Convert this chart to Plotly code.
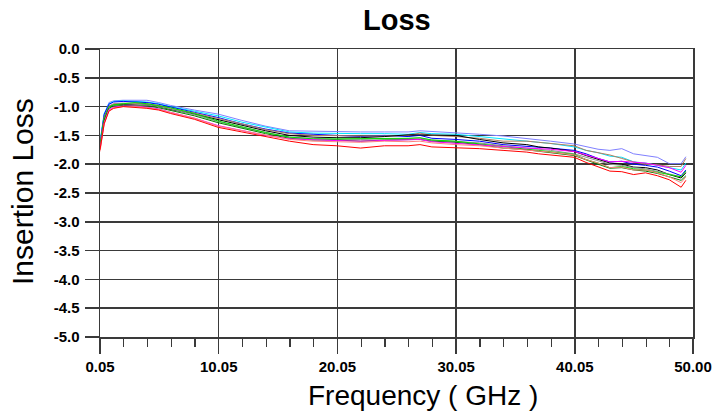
import plotly.graph_objects as go

freq = [0.05, 0.4, 0.8, 1.2, 2, 3, 4, 5, 6, 8, 10, 12, 14, 16, 18, 20, 22, 24, 26, 27, 28,
        30, 32, 34, 36, 37, 38, 40, 41, 42, 43, 44, 45, 46, 47, 48, 49, 49.4]

periwinkle = [-1.62, -1.15, -0.93, -0.90, -0.89, -0.89, -0.89, -0.93, -0.98, -1.06, -1.13, -1.24, -1.34, -1.42, -1.43, -1.44, -1.44, -1.44, -1.44, -1.42, -1.43,
              -1.45, -1.48, -1.51, -1.55, -1.58, -1.60, -1.65, -1.70, -1.74, -1.76, -1.73, -1.82, -1.85, -1.88, -1.99, -1.99, -1.87]
cyan = [-1.60, -1.12, -0.95, -0.91, -0.90, -0.91, -0.92, -0.95, -1.00, -1.08, -1.16, -1.27, -1.36, -1.44, -1.46, -1.47, -1.47, -1.47, -1.48, -1.45, -1.47,
        -1.48, -1.52, -1.55, -1.60, -1.62, -1.64, -1.70, -1.76, -1.80, -1.86, -1.88, -1.96, -1.98, -2.02, -2.06, -2.10, -1.98]
blue = [-1.65, -1.14, -0.96, -0.92, -0.91, -0.92, -0.93, -0.96, -1.01, -1.10, -1.19, -1.30, -1.39, -1.46, -1.48, -1.50, -1.52, -1.50, -1.52, -1.50, -1.55,
        -1.57, -1.60, -1.66, -1.69, -1.70, -1.72, -1.76, -1.82, -1.90, -1.96, -1.95, -2.00, -2.02, -2.05, -2.12, -2.20, -2.10]
brown = [-1.68, -1.18, -0.99, -0.95, -0.94, -0.94, -0.95, -0.98, -1.03, -1.11, -1.20, -1.30, -1.40, -1.47, -1.50, -1.51, -1.51, -1.51, -1.50, -1.46, -1.50,
         -1.52, -1.55, -1.60, -1.60, -1.62, -1.64, -1.68, -1.76, -1.80, -1.84, -1.90, -1.96, -2.00, -2.01, -2.04, -2.04, -1.90]
black = [-1.70, -1.20, -1.00, -0.97, -0.96, -0.96, -0.97, -1.00, -1.05, -1.13, -1.23, -1.33, -1.42, -1.50, -1.53, -1.54, -1.54, -1.52, -1.49, -1.49, -1.49,
         -1.50, -1.57, -1.63, -1.66, -1.70, -1.72, -1.78, -1.85, -1.92, -1.98, -2.00, -2.05, -2.06, -2.10, -2.18, -2.24, -2.15]
green = [-1.68, -1.22, -1.01, -0.97, -0.95, -0.93, -0.95, -0.98, -1.02, -1.12, -1.25, -1.35, -1.45, -1.53, -1.56, -1.56, -1.56, -1.56, -1.55, -1.54, -1.58,
         -1.60, -1.65, -1.70, -1.74, -1.76, -1.78, -1.83, -1.92, -1.98, -2.06, -2.04, -2.08, -2.10, -2.14, -2.18, -2.22, -2.12]
dark_green = [-1.72, -1.24, -1.03, -0.99, -0.98, -0.98, -0.99, -1.02, -1.07, -1.16, -1.28, -1.38, -1.47, -1.55, -1.58, -1.58, -1.60, -1.58, -1.58, -1.57, -1.60,
              -1.62, -1.66, -1.72, -1.75, -1.77, -1.80, -1.85, -1.93, -2.00, -2.07, -2.06, -2.10, -2.12, -2.16, -2.22, -2.28, -2.20]
gray = [-1.66, -1.20, -1.00, -0.96, -0.95, -0.96, -0.97, -1.00, -1.04, -1.14, -1.26, -1.36, -1.45, -1.53, -1.55, -1.57, -1.57, -1.56, -1.56, -1.55, -1.58,
        -1.60, -1.63, -1.68, -1.72, -1.74, -1.76, -1.82, -1.88, -1.95, -2.00, -2.02, -2.06, -2.08, -2.12, -2.17, -2.22, -2.14]
magenta = [-1.74, -1.28, -1.05, -1.01, -0.99, -0.99, -1.01, -1.04, -1.10, -1.20, -1.33, -1.42, -1.50, -1.56, -1.58, -1.59, -1.60, -1.59, -1.58, -1.57, -1.61,
           -1.64, -1.66, -1.70, -1.72, -1.73, -1.74, -1.78, -1.84, -1.90, -1.96, -1.95, -1.97, -1.98, -2.02, -2.06, -2.14, -2.02]
pink = [-1.78, -1.30, -1.07, -1.02, -1.00, -1.00, -1.02, -1.05, -1.10, -1.20, -1.34, -1.42, -1.50, -1.57, -1.60, -1.61, -1.62, -1.60, -1.61, -1.60, -1.63,
        -1.66, -1.68, -1.72, -1.75, -1.77, -1.79, -1.84, -1.92, -1.98, -2.06, -2.05, -2.10, -2.10, -2.15, -2.22, -2.32, -2.22]
red = [-1.75, -1.30, -1.08, -1.03, -1.00, -1.01, -1.03, -1.06, -1.12, -1.22, -1.36, -1.44, -1.52, -1.60, -1.66, -1.68, -1.72, -1.68, -1.68, -1.66, -1.70,
       -1.71, -1.73, -1.76, -1.79, -1.82, -1.84, -1.88, -1.97, -2.04, -2.12, -2.13, -2.18, -2.15, -2.20, -2.27, -2.40, -2.28]

series = [
    ("S1", periwinkle, "#8080ff"),
    ("S2", cyan, "#00e5ff"),
    ("S3", blue, "#0000ff"),
    ("S4", brown, "#b08060"),
    ("S5", black, "#000000"),
    ("S6", gray, "#909090"),
    ("S7", green, "#00e000"),
    ("S8", dark_green, "#008000"),
    ("S9", magenta, "#ff00ff"),
    ("S10", pink, "#ff8080"),
    ("S11", red, "#ff0000"),
]

x_tickvals = [0.05, 10.05, 20.05, 30.05, 40.05, 50.0]
x_ticktext = ["0.05", "10.05", "20.05", "30.05", "40.05", "50.00"]
x_minor = [2.05, 4.05, 6.05, 8.05, 12.05, 14.05, 16.05, 18.05, 22.05, 24.05, 26.05, 28.05,
           32.05, 34.05, 36.05, 38.05, 42.05, 44.05, 46.05, 48.05]
y_tickvals = [0.0, -0.5, -1.0, -1.5, -2.0, -2.5, -3.0, -3.5, -4.0, -4.5, -5.0]
y_ticktext = ["0.0", "-0.5", "-1.0", "-1.5", "-2.0", "-2.5", "-3.0", "-3.5", "-4.0", "-4.5", "-5.0"]

fig = go.Figure()
for name, vals, col in series:
    fig.add_trace(go.Scatter(x=freq, y=vals, mode="lines", name=name,
                             line=dict(color=col, width=1)))

FONT = "Arial, Liberation Sans, sans-serif"
GRID = "#3a3a3a"
L, R, T, B = 100, 22, 49, 78
W, H = 715, 415
PW, PH = W - L - R, H - T - B
fig.update_layout(
    width=W, height=H,
    margin=dict(l=L, r=R, t=T, b=B, autoexpand=False),
    paper_bgcolor="white", plot_bgcolor="white",
    showlegend=False,
    font=dict(family=FONT, color="black"),
    annotations=[
        dict(text="<b>Loss</b>", xref="paper", yref="paper",
             x=0.5, y=1 + (T - 20) / PH, xanchor="center", yanchor="middle",
             showarrow=False, font=dict(family=FONT, size=29, color="black")),
        dict(text="Frequency ( GHz )", xref="paper", yref="paper",
             x=(423 - L) / PW, y=-(395 - (H - B)) / PH,
             xanchor="center", yanchor="middle",
             showarrow=False, font=dict(family=FONT, size=28, color="black")),
        dict(text="Insertion Loss", xref="paper", yref="paper", textangle=-90,
             x=-(L - 22) / PW, y=1 - (192 - T) / PH,
             xanchor="center", yanchor="middle",
             showarrow=False, font=dict(family=FONT, size=30, color="black")),
    ],
)
fig.update_xaxes(
    range=[0.05, 50.0], tickmode="array", tickvals=x_tickvals, ticktext=x_ticktext,
    ticks="outside", ticklen=15, tickwidth=1.5, tickcolor=GRID,
    tickfont=dict(family=FONT, size=15, color="black", weight="bold"),
    ticklabelstandoff=0, automargin=False,
    showgrid=True, gridcolor=GRID, gridwidth=1.5,
    showline=True, linecolor=GRID, linewidth=1.5, mirror=True, zeroline=False,
    minor=dict(tickmode="array", tickvals=x_minor, ticks="outside", ticklen=8,
               tickwidth=1.2, tickcolor=GRID, showgrid=False),
)
fig.update_yaxes(
    range=[-5.0, 0.0], tickmode="array", tickvals=y_tickvals, ticktext=y_ticktext,
    ticks="outside", ticklen=14, tickwidth=1.5, tickcolor=GRID,
    tickfont=dict(family=FONT, size=15, color="black", weight="bold"),
    ticklabelstandoff=2, automargin=False,
    showgrid=True, gridcolor=GRID, gridwidth=1.5,
    showline=True, linecolor=GRID, linewidth=1.5, mirror=True, zeroline=False,
)

fig.write_html("out.html", config={"displayModeBar": False, "staticPlot": True},
               post_script="document.body.style.margin='0px';")
